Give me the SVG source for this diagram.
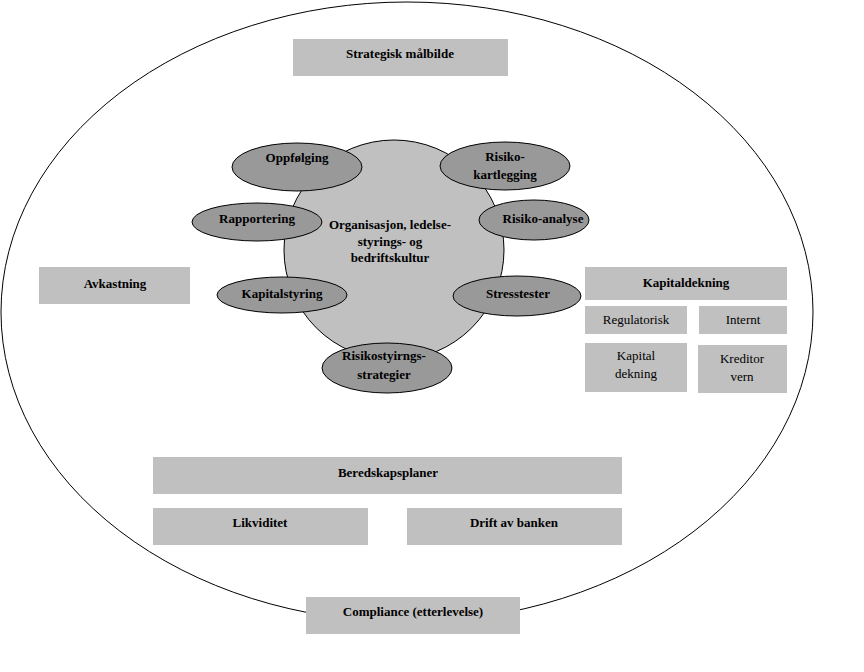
<svg xmlns="http://www.w3.org/2000/svg" width="864" height="672" viewBox="0 0 864 672">
<style>
text{font-family:'Liberation Serif','DejaVu Serif','Times New Roman',serif;font-size:13px;text-anchor:middle;fill:#000}
.b{font-weight:bold}
.box{fill:#c0c0c0}
.ov{fill:#999999;stroke:#000;stroke-width:1}
</style>
<rect width="864" height="672" fill="#fff"/>
<ellipse id="frame" cx="407" cy="312" rx="406" ry="310" fill="none" stroke="#000" stroke-width="1"/>
<g id="strategisk"><rect class="box" x="293" y="39" width="215" height="37"/><text class="b" x="400" y="58">Strategisk målbilde</text></g>
<g id="avkastning"><rect class="box" x="39" y="267" width="151" height="37"/><text class="b" x="115" y="288">Avkastning</text></g>
<g id="kapitaldekning"><rect class="box" x="585" y="267" width="202" height="33"/><text class="b" x="686" y="287">Kapitaldekning</text></g>
<g id="regulatorisk"><rect class="box" x="585" y="306" width="102" height="28"/><text x="636" y="324">Regulatorisk</text></g>
<g id="internt"><rect class="box" x="699" y="306" width="88" height="28"/><text x="743" y="324">Internt</text></g>
<g id="kapital-dekning"><rect class="box" x="585" y="343" width="102" height="49"/><text x="636" y="360">Kapital</text><text x="636" y="378">dekning</text></g>
<g id="kreditorvern"><rect class="box" x="698" y="345" width="89" height="48"/><text x="742" y="363">Kreditor</text><text x="742" y="381">vern</text></g>
<g id="beredskap"><rect class="box" x="153" y="457" width="469" height="37"/><text class="b" x="388" y="477">Beredskapsplaner</text></g>
<g id="likviditet"><rect class="box" x="153" y="508" width="215" height="37"/><text class="b" x="260" y="527">Likviditet</text></g>
<g id="drift"><rect class="box" x="407" y="508" width="215" height="37"/><text class="b" x="514" y="527">Drift av banken</text></g>
<g id="compliance"><rect class="box" x="306" y="597" width="214" height="37"/><text class="b" x="413" y="616">Compliance (etterlevelse)</text></g>
<g id="organisasjon"><circle cx="394" cy="250" r="110" fill="#c0c0c0" stroke="#000" stroke-width="1"/><text class="b" x="390" y="229">Organisasjon, ledelse-</text><text class="b" x="390" y="246">styrings- og</text><text class="b" x="390" y="262">bedriftskultur</text></g>
<g id="oppfolging"><ellipse class="ov" cx="297" cy="167" rx="65" ry="24"/><text class="b" x="297" y="162">Oppfølging</text></g>
<g id="risikokartlegging"><ellipse class="ov" cx="505" cy="166" rx="65" ry="24"/><text class="b" x="505" y="161">Risiko-</text><text class="b" x="505" y="179">kartlegging</text></g>
<g id="rapportering"><ellipse class="ov" cx="257" cy="222" rx="65" ry="19"/><text class="b" x="257" y="223">Rapportering</text></g>
<g id="risikoanalyse"><ellipse class="ov" cx="534" cy="220" rx="55" ry="20"/><text class="b" x="543" y="223">Risiko-analyse</text></g>
<g id="kapitalstyring"><ellipse class="ov" cx="282" cy="295" rx="65" ry="18"/><text class="b" x="282" y="298">Kapitalstyring</text></g>
<g id="stresstester"><ellipse class="ov" cx="517" cy="296" rx="64" ry="20"/><text class="b" x="518" y="298">Stresstester</text></g>
<g id="risikostyrings"><ellipse class="ov" cx="387" cy="368" rx="65" ry="25"/><text class="b" x="384" y="360">Risikostyirngs-</text><text class="b" x="384" y="379">strategier</text></g>
</svg>
